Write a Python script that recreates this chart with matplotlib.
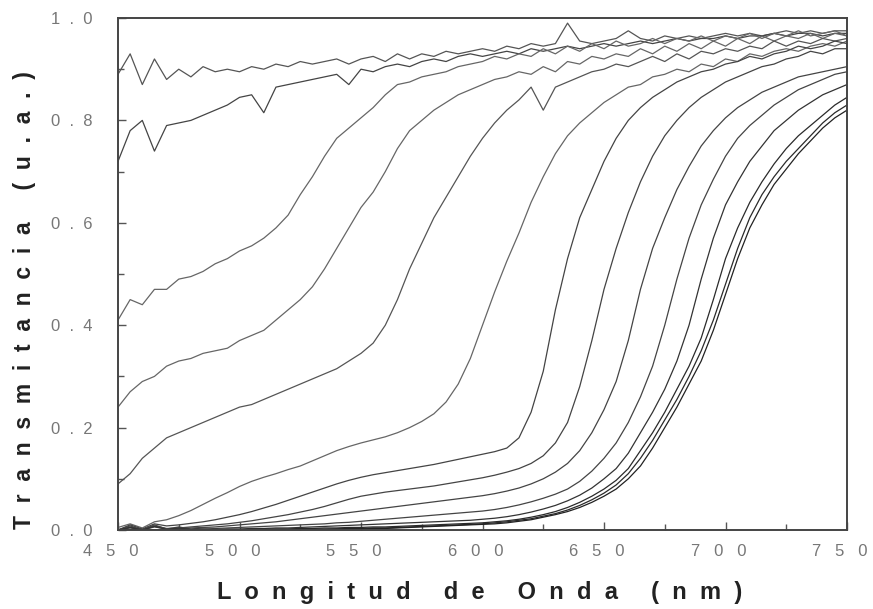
import matplotlib
matplotlib.use("Agg")
import matplotlib.pyplot as plt
from matplotlib.ticker import MultipleLocator, FixedLocator
from matplotlib.transforms import ScaledTranslation

wavelength = [450, 455, 460, 465, 470, 475, 480, 485, 490, 495,
              500, 505, 510, 515, 520, 525, 530, 535, 540, 545,
              550, 555, 560, 565, 570, 575, 580, 585, 590, 595,
              600, 605, 610, 615, 620, 625, 630, 635, 640, 645,
              650, 655, 660, 665, 670, 675, 680, 685, 690, 695,
              700, 705, 710, 715, 720, 725, 730, 735, 740, 745, 750]

t1 = [0.89, 0.93, 0.87, 0.92, 0.88, 0.90, 0.885, 0.905, 0.895, 0.90,
      0.895, 0.905, 0.90, 0.91, 0.905, 0.915, 0.91, 0.915, 0.92, 0.91,
      0.92, 0.925, 0.915, 0.93, 0.92, 0.93, 0.925, 0.935, 0.93, 0.935,
      0.94, 0.935, 0.945, 0.94, 0.95, 0.945, 0.95, 0.99, 0.955, 0.95,
      0.955, 0.96, 0.975, 0.96, 0.955, 0.965, 0.96, 0.965, 0.96, 0.965,
      0.97, 0.965, 0.97, 0.965, 0.97, 0.975, 0.97, 0.975, 0.97, 0.975, 0.975]
t2 = [0.72, 0.78, 0.80, 0.74, 0.79, 0.795, 0.80, 0.81, 0.82, 0.83,
      0.845, 0.85, 0.815, 0.865, 0.87, 0.875, 0.88, 0.885, 0.89, 0.87,
      0.90, 0.895, 0.905, 0.91, 0.905, 0.915, 0.92, 0.915, 0.925, 0.93,
      0.925, 0.93, 0.935, 0.93, 0.94, 0.935, 0.94, 0.945, 0.94, 0.945,
      0.95, 0.945, 0.95, 0.955, 0.95, 0.955, 0.96, 0.955, 0.96, 0.96,
      0.965, 0.96, 0.965, 0.965, 0.97, 0.965, 0.97, 0.97, 0.965, 0.97, 0.97]
t3 = [0.41, 0.45, 0.44, 0.47, 0.47, 0.49, 0.495, 0.505, 0.52, 0.53,
      0.545, 0.555, 0.57, 0.59, 0.615, 0.655, 0.69, 0.73, 0.765, 0.785,
      0.805, 0.825, 0.85, 0.87, 0.875, 0.885, 0.89, 0.895, 0.905, 0.91,
      0.915, 0.925, 0.92, 0.93, 0.925, 0.94, 0.93, 0.945, 0.935, 0.95,
      0.94, 0.955, 0.945, 0.95, 0.96, 0.95, 0.96, 0.955, 0.965, 0.955,
      0.965, 0.96, 0.97, 0.96, 0.97, 0.965, 0.975, 0.965, 0.97, 0.975, 0.965]
t4 = [0.24, 0.27, 0.29, 0.30, 0.32, 0.33, 0.335, 0.345, 0.35, 0.355,
      0.37, 0.38, 0.39, 0.41, 0.43, 0.45, 0.475, 0.51, 0.55, 0.59,
      0.63, 0.66, 0.70, 0.745, 0.78, 0.80, 0.82, 0.835, 0.85, 0.86,
      0.87, 0.88, 0.885, 0.895, 0.89, 0.905, 0.895, 0.915, 0.91, 0.925,
      0.92, 0.93, 0.925, 0.94, 0.93, 0.945, 0.935, 0.95, 0.94, 0.955,
      0.945, 0.96, 0.95, 0.965, 0.955, 0.965, 0.96, 0.97, 0.96, 0.97, 0.965]
t5 = [0.09, 0.11, 0.14, 0.16, 0.18, 0.19, 0.20, 0.21, 0.22, 0.23,
      0.24, 0.245, 0.255, 0.265, 0.275, 0.285, 0.295, 0.305, 0.315, 0.33,
      0.345, 0.365, 0.40, 0.45, 0.51, 0.56, 0.61, 0.65, 0.69, 0.73,
      0.765, 0.795, 0.82, 0.84, 0.865, 0.82, 0.865, 0.875, 0.885, 0.895,
      0.90, 0.91, 0.905, 0.915, 0.925, 0.915, 0.93, 0.92, 0.935, 0.93,
      0.94, 0.935, 0.945, 0.94, 0.955, 0.945, 0.955, 0.95, 0.96, 0.955, 0.96]
t6 = [0.005, 0.012, 0.004, 0.016, 0.02, 0.028, 0.038, 0.05, 0.062, 0.073,
      0.085, 0.095, 0.103, 0.11, 0.118, 0.125, 0.135, 0.145, 0.155, 0.163,
      0.17, 0.176, 0.182, 0.19, 0.2, 0.212, 0.227, 0.25, 0.285, 0.335,
      0.40, 0.465, 0.525, 0.58, 0.64, 0.69, 0.735, 0.77, 0.795, 0.815,
      0.835, 0.85, 0.865, 0.87, 0.885, 0.89, 0.90, 0.895, 0.91, 0.905,
      0.92, 0.915, 0.93, 0.925, 0.935, 0.94, 0.935, 0.945, 0.95, 0.945, 0.955]
t7 = [0.0, 0.01, 0.002, 0.012, 0.008, 0.01, 0.013, 0.016, 0.02, 0.025,
      0.03, 0.036, 0.043, 0.05, 0.058, 0.066, 0.074, 0.082, 0.09, 0.097,
      0.103, 0.108, 0.112, 0.116, 0.12, 0.124, 0.128, 0.133, 0.138, 0.143,
      0.148, 0.153, 0.16, 0.18, 0.23, 0.31, 0.43, 0.53, 0.61, 0.665,
      0.72, 0.765, 0.80, 0.825, 0.845, 0.86, 0.875, 0.885, 0.895, 0.90,
      0.91, 0.915, 0.925, 0.92, 0.93, 0.935, 0.945, 0.94, 0.945, 0.955, 0.95]
t8 = [0.0, 0.006, 0.001, 0.008, 0.003, 0.004, 0.006, 0.008, 0.01, 0.012,
      0.015, 0.018, 0.022, 0.026, 0.03, 0.035, 0.04, 0.046, 0.053, 0.06,
      0.066, 0.07, 0.074, 0.077, 0.08, 0.083, 0.086, 0.09, 0.094, 0.098,
      0.102, 0.107, 0.113, 0.12, 0.13, 0.145, 0.17, 0.21, 0.28, 0.37,
      0.47, 0.55, 0.62, 0.68, 0.73, 0.77, 0.80, 0.825, 0.845, 0.86,
      0.875, 0.885, 0.895, 0.905, 0.91, 0.92, 0.925, 0.935, 0.93, 0.94, 0.94]
t9 = [0.0, 0.004, 0.0, 0.006, 0.002, 0.003, 0.004, 0.005, 0.006, 0.008,
      0.01, 0.012, 0.014, 0.016, 0.019, 0.022, 0.025, 0.028, 0.031, 0.034,
      0.037, 0.04, 0.043, 0.046, 0.049, 0.052, 0.055, 0.058, 0.061, 0.064,
      0.067, 0.071, 0.076, 0.082, 0.09, 0.10, 0.113, 0.13, 0.155, 0.19,
      0.235, 0.29, 0.37, 0.47, 0.55, 0.61, 0.665, 0.71, 0.75, 0.78,
      0.805, 0.825, 0.84, 0.855, 0.865, 0.875, 0.885, 0.89, 0.895, 0.90, 0.905]
t10 = [0.0, 0.008, 0.0, 0.01, 0.002, 0.006, 0.002, 0.004, 0.003, 0.004,
       0.005, 0.006, 0.007, 0.008, 0.009, 0.01, 0.011, 0.012, 0.014, 0.015,
       0.017, 0.019, 0.021, 0.023, 0.025, 0.027, 0.029, 0.031, 0.033, 0.035,
       0.037, 0.04, 0.044, 0.049, 0.055, 0.062, 0.07, 0.08, 0.095, 0.115,
       0.14, 0.17, 0.21, 0.26, 0.32, 0.40, 0.49, 0.57, 0.635, 0.685,
       0.73, 0.765, 0.79, 0.81, 0.83, 0.845, 0.86, 0.87, 0.88, 0.89, 0.895]
t11 = [0.0, 0.005, 0.0, 0.007, 0.001, 0.004, 0.001, 0.002, 0.001, 0.002,
       0.002, 0.003, 0.003, 0.004, 0.004, 0.005, 0.006, 0.007, 0.008, 0.009,
       0.01, 0.011, 0.012, 0.013, 0.014, 0.015, 0.016, 0.017, 0.018, 0.019,
       0.021, 0.023, 0.026, 0.03, 0.035, 0.041, 0.048, 0.057, 0.068, 0.082,
       0.10, 0.12, 0.15, 0.19, 0.23, 0.275, 0.33, 0.40, 0.49, 0.57,
       0.635, 0.68, 0.72, 0.75, 0.78, 0.80, 0.82, 0.835, 0.85, 0.86, 0.87]
t12 = [0.0, 0.0, 0.0, 0.0, 0.0, 0.0, 0.0, 0.0, 0.001, 0.001,
       0.001, 0.001, 0.002, 0.002, 0.002, 0.003, 0.003, 0.004, 0.004, 0.005,
       0.005, 0.006, 0.006, 0.007, 0.008, 0.009, 0.01, 0.011, 0.012, 0.013,
       0.014, 0.016, 0.018, 0.021, 0.025, 0.03, 0.036, 0.044, 0.054, 0.066,
       0.08, 0.097, 0.12, 0.155, 0.19, 0.23, 0.275, 0.32, 0.375, 0.45,
       0.53, 0.59, 0.64, 0.68, 0.715, 0.745, 0.77, 0.79, 0.81, 0.83, 0.845]
t13 = [0.0, 0.0, 0.0, 0.0, 0.0, 0.0, 0.0, 0.0, 0.0, 0.0,
       0.0, 0.001, 0.001, 0.001, 0.001, 0.002, 0.002, 0.002, 0.002, 0.003,
       0.003, 0.004, 0.004, 0.005, 0.006, 0.007, 0.008, 0.009, 0.01, 0.011,
       0.012, 0.014, 0.016, 0.019, 0.022, 0.027, 0.032, 0.039, 0.048, 0.059,
       0.072, 0.088, 0.11, 0.14, 0.175, 0.215, 0.255, 0.30, 0.35, 0.41,
       0.48, 0.55, 0.61, 0.655, 0.69, 0.72, 0.745, 0.77, 0.795, 0.815, 0.83]
t14 = [0.0, 0.0, 0.0, 0.0, 0.0, 0.0, 0.0, 0.0, 0.0, 0.0,
       0.0, 0.0, 0.0, 0.001, 0.001, 0.001, 0.001, 0.001, 0.002, 0.002,
       0.002, 0.003, 0.003, 0.004, 0.005, 0.006, 0.007, 0.008, 0.009, 0.01,
       0.011, 0.012, 0.014, 0.017, 0.02, 0.025, 0.03, 0.036, 0.044, 0.054,
       0.066, 0.08, 0.1, 0.125, 0.16, 0.20, 0.24, 0.285, 0.33, 0.39,
       0.46, 0.53, 0.59, 0.635, 0.675, 0.705, 0.735, 0.76, 0.785, 0.805, 0.82]

series = [t1, t2, t3, t4, t5, t6, t7, t8, t9, t10, t11, t12, t13, t14]
line_colors = ["#555555", "#444444", "#666666", "#666666", "#555555", "#666666", "#444444",
               "#444444", "#444444", "#444444", "#333333", "#2a2a2a", "#2a2a2a", "#222222"]

x_ticks = [450, 500, 550, 600, 650, 700, 750]
x_tick_labels = ["4   5   0", "5   0   0", "5   5   0", "6   0   0", "6   5   0", "7   0   0", "7   5   0"]
y_ticks = [0.0, 0.2, 0.4, 0.6, 0.8, 1.0]
y_tick_labels = ["0  .  0", "0  .  2", "0  .  4", "0  .  6", "0  .  8", "1  .  0"]

plt.rcParams['font.family'] = ['Liberation Sans', 'DejaVu Sans']

fig = plt.figure(figsize=(8.73, 6.09), dpi=100)
ax = fig.add_axes([118/873, 79/609, 729/873, 512/609])

for s, c in zip(series, line_colors):
    ax.plot(wavelength, s, color=c, lw=0.9)

ax.set_xlim(450, 750)
ax.set_ylim(0, 1.0)
ax.xaxis.set_major_locator(FixedLocator(x_ticks))
ax.xaxis.set_minor_locator(MultipleLocator(25))
ax.yaxis.set_major_locator(FixedLocator(y_ticks))
ax.yaxis.set_minor_locator(MultipleLocator(0.1))
ax.set_xticklabels(x_tick_labels)
ax.set_yticklabels(y_tick_labels)
ax.tick_params(axis='both', which='both', direction='in', top=False, right=False,
               colors='#555555', labelcolor='#777777', labelsize=12)
ax.tick_params(axis='both', which='major', length=6, width=1)
ax.tick_params(axis='both', which='minor', length=4, width=1)
ax.tick_params(axis='x', pad=10)
ax.tick_params(axis='y', pad=18)
shift = ScaledTranslation(-7/100, 0, fig.dpi_scale_trans)
for lbl in ax.get_xticklabels():
    lbl.set_transform(lbl.get_transform() + shift)
for sp in ax.spines.values():
    sp.set_color('#444444')
    sp.set_linewidth(1.4)

fig.text(480/873, 1 - 592/609, "L  o  n  g  i  t  u  d     d  e     O  n  d  a     (  n  m  )",
         ha='center', va='center', fontsize=17, fontweight='bold', color='#222222')
fig.text(25/873, 1 - 300/609, "T  r  a  n  s  m  i  t  a  n  c  i  a     (  u  .  a  .  )",
         ha='center', va='center', rotation=90, fontsize=16.5, fontweight='bold', color='#222222')

fig.savefig("out.png", dpi=100)
